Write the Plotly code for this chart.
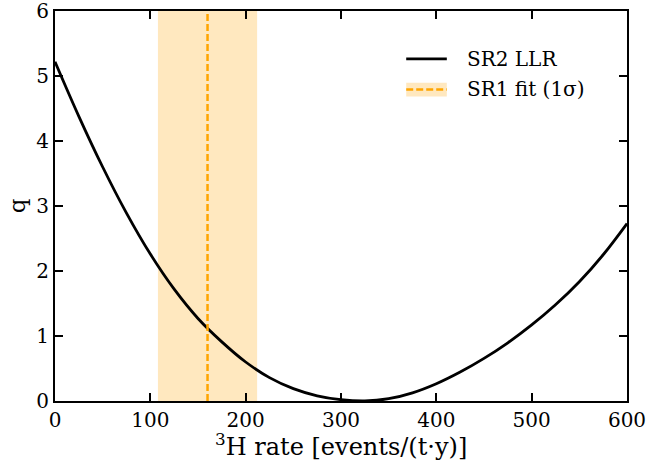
import plotly.graph_objects as go

# Tritium rate (events/(t*y)) and SR2 log-likelihood ratio q
rate = [0, 25, 50, 75, 100, 125, 150, 175, 200, 225, 250, 275, 300,
        325, 350, 375, 400, 425, 450, 475, 500, 525, 550, 575, 600]
q_llr = [5.22, 4.38, 3.60, 2.89, 2.26, 1.72, 1.27, 0.91, 0.60, 0.36, 0.19, 0.08, 0.02,
         0.0, 0.035, 0.125, 0.265, 0.445, 0.655, 0.895, 1.17, 1.48, 1.835, 2.25, 2.73]

# SR1 fit and its 1 sigma range
sr1_center = 160
sr1_lo = 108
sr1_hi = 212

xticks = [0, 100, 200, 300, 400, 500, 600]
yticks = [0, 1, 2, 3, 4, 5, 6]

FONT = "DejaVu Serif"
ORANGE = "#FFA500"
BAND = "rgba(255,165,0,0.25)"

fig = go.Figure()

fig.add_shape(type="rect", xref="x", yref="paper", x0=sr1_lo, x1=sr1_hi, y0=0, y1=1,
              fillcolor=BAND, line_width=0, layer="below")
fig.add_shape(type="line", xref="x", yref="paper", x0=sr1_center, x1=sr1_center, y0=0, y1=1,
              line=dict(color=ORANGE, width=2.5, dash="7px,3px"), layer="above")

fig.add_trace(go.Scatter(x=rate, y=q_llr, mode="lines",
                         line=dict(color="black", width=2.8, shape="spline", smoothing=1.0),
                         name="SR2 LLR", showlegend=False, cliponaxis=True))

# manual legend
fig.add_shape(type="line", xref="paper", yref="paper", x0=0.614, x1=0.685, y0=0.877, y1=0.877,
              line=dict(color="black", width=2.8))
fig.add_shape(type="rect", xref="paper", yref="paper", x0=0.614, x1=0.685, y0=0.781, y1=0.816,
              fillcolor=BAND, line_width=0)
fig.add_shape(type="line", xref="paper", yref="paper", x0=0.614, x1=0.685, y0=0.799, y1=0.799,
              line=dict(color=ORANGE, width=2.5, dash="7px,3px"))
fig.add_annotation(xref="paper", yref="paper", x=0.717, y=0.877, text="SR2 LLR", showarrow=False,
                   xanchor="left", yanchor="middle", font=dict(family=FONT, size=20, color="black"))
fig.add_annotation(xref="paper", yref="paper", x=0.717, y=0.799, text="SR1 fit (1σ)", showarrow=False,
                   xanchor="left", yanchor="middle", font=dict(family=FONT, size=20, color="black"))

# axis titles
fig.add_annotation(xref="paper", yref="paper", x=0.5, y=-0.112, text="<sup>3</sup>H rate [events/(t·y)]",
                   showarrow=False, xanchor="center", yanchor="middle",
                   font=dict(family=FONT, size=24, color="black"))
fig.add_annotation(xref="paper", yref="paper", x=-0.066, y=0.5, text="q", textangle=-90,
                   showarrow=False, xanchor="center", yanchor="middle",
                   font=dict(family=FONT, size=23, color="black"))

axis_common = dict(showgrid=False, zeroline=False, showline=True, linecolor="black", linewidth=2,
                   mirror="ticks", ticks="inside", ticklen=8, tickwidth=2, tickcolor="black",
                   automargin=False, ticklabeloverflow="allow",
                   tickfont=dict(family=FONT, size=20, color="black"))

fig.update_xaxes(range=[0, 600], tickvals=xticks, ticktext=[str(v) for v in xticks], **axis_common)
fig.update_yaxes(range=[0, 6], tickvals=yticks, ticktext=[str(v) for v in yticks], **axis_common)

fig.update_layout(width=668, height=463, margin=dict(l=55, r=41, t=11, b=62),
                  plot_bgcolor="white", paper_bgcolor="white", showlegend=False)

fig.write_html("out.html", config={"displayModeBar": False},
               post_script="document.body.style.margin='0';")
